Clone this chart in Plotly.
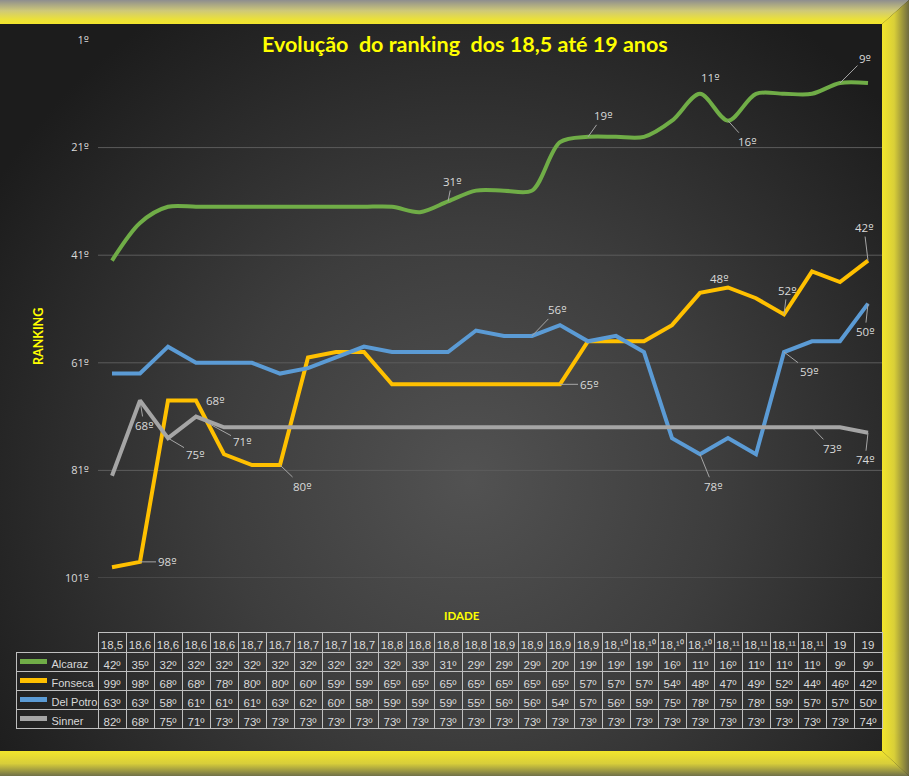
import base64
import plotly.graph_objects as go

# ---------------- data ----------------
ages = ["18,5", "18,6", "18,6", "18,6", "18,6", "18,7", "18,7", "18,7", "18,7", "18,7",
        "18,8", "18,8", "18,8", "18,8", "18,9", "18,9", "18,9", "18,9",
        "18,¹⁰", "18,¹⁰", "18,¹⁰", "18,¹⁰", "18,¹¹", "18,¹¹", "18,¹¹", "18,¹¹", "19", "19"]
alcaraz = [42, 35, 32, 32, 32, 32, 32, 32, 32, 32, 32, 33, 31, 29, 29, 29, 20, 19, 19, 19,
           16, 11, 16, 11, 11, 11, 9, 9]
fonseca = [99, 98, 68, 68, 78, 80, 80, 60, 59, 59, 65, 65, 65, 65, 65, 65, 65, 57, 57, 57,
           54, 48, 47, 49, 52, 44, 46, 42]
delpotro = [63, 63, 58, 61, 61, 61, 63, 62, 60, 58, 59, 59, 59, 55, 56, 56, 54, 57, 56, 59,
            75, 78, 75, 78, 59, 57, 57, 50]
sinner = [82, 68, 75, 71, 73, 73, 73, 73, 73, 73, 73, 73, 73, 73, 73, 73, 73, 73, 73, 73,
          73, 73, 73, 73, 73, 73, 73, 74]
players = ["Alcaraz", "Fonseca", "Del Potro", "Sinner"]
rank_ticks = [1, 21, 41, 61, 81, 101]

# ---------------- styles ----------------
W, H = 909, 776
ML, MR, MT, MB = 0, 27, 40, 40
PW, PH = W - ML - MR, H - MT - MB


def px(x):
    return (x - ML) / PW


def py(y):
    return (H - MB - y) / PH


colors = {"Alcaraz": "#70ad47", "Fonseca": "#ffc000", "Del Potro": "#5b9bd5", "Sinner": "#a5a5a5"}
series = {"Alcaraz": alcaraz, "Fonseca": fonseca, "Del Potro": delpotro, "Sinner": sinner}
TFONT = "Lato, 'Open Sans', sans-serif"
NFONT = "'Open Sans', 'Noto Sans', sans-serif"
TABFONT = "'Liberation Sans', Arial, sans-serif"
TXT = "#d9d9d9"
YEL = "#ffff00"
# ordinal sign in a font whose glyph is underlined
ORD = "<span style='font-family:DejaVu Sans'>º</span>"


def rk(v):
    return f"{v}{ORD}"


svg = """<svg xmlns="http://www.w3.org/2000/svg" width="909" height="776" viewBox="0 0 909 776" preserveAspectRatio="none">
<defs>
<radialGradient id="bg" gradientUnits="userSpaceOnUse" cx="470" cy="480" r="560">
<stop offset="0" stop-color="#525252"/>
<stop offset="0.45" stop-color="#3d3d3d"/>
<stop offset="1" stop-color="#1c1c1c"/>
</radialGradient>
<linearGradient id="top" x1="0" y1="0" x2="0" y2="1">
<stop offset="0" stop-color="#8e8e8e"/>
<stop offset="0.45" stop-color="#cfc978"/>
<stop offset="0.8" stop-color="#ebe13a"/>
<stop offset="1" stop-color="#f2e52c"/>
</linearGradient>
<linearGradient id="right" x1="0" y1="0" x2="1" y2="0">
<stop offset="0" stop-color="#f2e52c"/>
<stop offset="0.45" stop-color="#d9cf38"/>
<stop offset="1" stop-color="#6e6a40"/>
</linearGradient>
<linearGradient id="bottom" x1="0" y1="0" x2="0" y2="1">
<stop offset="0" stop-color="#f2e52c"/>
<stop offset="0.5" stop-color="#d8ce3a"/>
<stop offset="1" stop-color="#707048"/>
</linearGradient>
</defs>
<rect width="909" height="776" fill="url(#bg)"/>
<polygon points="0,0 909,0 882,24 0,24" fill="url(#top)"/>
<polygon points="909,0 909,776 882,751 882,24" fill="url(#right)"/>
<polygon points="0,751 882,751 909,776 0,776" fill="url(#bottom)"/>
</svg>"""
bg_src = "data:image/svg+xml;base64," + base64.b64encode(svg.encode("utf-8")).decode("ascii")

fig = go.Figure()

idx = list(range(len(ages)))
for name in players:
    fig.add_trace(go.Scatter(
        x=idx, y=series[name], mode="lines", name=name,
        line=dict(color=colors[name], width=4,
                  shape="spline" if name == "Alcaraz" else "linear",
                  smoothing=0.9 if name == "Alcaraz" else None),
        xaxis="x", yaxis="y", showlegend=False, hoverinfo="skip"))

# data table (plain text: no spaces so cells never wrap)
header_vals = [""] + ages
cell_vals = [["\u00a0" * 9 + p.replace(" ", "\u00a0") for p in players]]
for i in idx:
    cell_vals.append([f"{series[p][i]}º" for p in players])

col_sizes = [11] + [11.5] * len(ages)
fig.add_trace(go.Table(
    domain=dict(x=[px(16), 1], y=[py(734), py(632)]),
    columnwidth=[82] + [28] * len(ages),
    header=dict(values=header_vals, height=20,
                fill=dict(color="rgba(0,0,0,0)"),
                line=dict(color=["rgba(0,0,0,0)"] + ["#bfbfbf"] * len(ages), width=1),
                font=dict(family=TABFONT, size=11.5, color=TXT), align="center"),
    cells=dict(values=cell_vals, height=19,
               fill=dict(color="rgba(0,0,0,0)"),
               line=dict(color="#bfbfbf", width=1),
               font=dict(family=TABFONT, size=col_sizes, color=TXT),
               align=["left"] + ["center"] * len(ages)),
))

shapes = []
# grid lines
for v in rank_ticks[1:]:
    shapes.append(dict(type="line", xref="x domain", yref="y", x0=0, x1=1, y0=v, y1=v,
                       line=dict(color="#5c5c5c", width=1), layer="below"))
# legend swatches in the table
row_centers = [661.5, 680.5, 699.5, 718.5]
for p, yc in zip(players, row_centers):
    shapes.append(dict(type="line", xref="paper", yref="paper",
                       x0=px(20), x1=px(47), y0=py(yc), y1=py(yc),
                       line=dict(color=colors[p], width=5), layer="above"))

annotations = [
    dict(text="<b>Evolução\u00a0\u00a0do ranking\u00a0\u00a0dos 18,5 até 19 anos</b>",
         xref="paper", yref="paper", x=px(465), y=py(44), showarrow=False,
         font=dict(family=TFONT, size=21.5, color=YEL), xanchor="center", yanchor="middle"),
    dict(text="<b>RANKING</b>", xref="paper", yref="paper", x=px(38), y=py(337),
         showarrow=False, textangle=-90, font=dict(family=TFONT, size=12.5, color=YEL),
         xanchor="center", yanchor="middle"),
    dict(text="<b>IDADE</b>", xref="paper", yref="paper", x=px(462), y=py(615),
         showarrow=False, font=dict(family=TFONT, size=11.5, color=YEL),
         xanchor="center", yanchor="middle"),
]

# data labels: (player, index, dx, dy, leader)
label_specs = [
    ("Alcaraz", 12, 4, -20, True),
    ("Alcaraz", 17, 15, -21, True),
    ("Alcaraz", 21, 10, -16, False),
    ("Alcaraz", 22, 19, 21, True),
    ("Alcaraz", 26, 25, -25, True),
    ("Fonseca", 1, 27, 0, True),
    ("Fonseca", 3, 19, 0, False),
    ("Fonseca", 6, 22, 21, True),
    ("Fonseca", 16, 29, 0, True),
    ("Fonseca", 21, 19, -14, False),
    ("Fonseca", 24, 3, -24, True),
    ("Fonseca", 27, -4, -33, True),
    ("Del Potro", 15, 25, -26, True),
    ("Del Potro", 21, 13, 32, True),
    ("Del Potro", 24, 25, 19, True),
    ("Del Potro", 27, -3, 28, True),
    ("Sinner", 1, 4, 25, True),
    ("Sinner", 2, 27, 16, True),
    ("Sinner", 3, 46, 25, True),
    ("Sinner", 25, 20, 21, True),
    ("Sinner", 27, -3, 27, True),
]
for p, i, dx, dy, leader in label_specs:
    a = dict(x=i, y=series[p][i], xref="x", yref="y", text=rk(series[p][i]),
             font=dict(family=NFONT, size=11.5, color=TXT))
    if leader:
        a.update(showarrow=True, ax=dx, ay=dy, arrowhead=0, arrowwidth=1,
                 arrowcolor="#a6a6a6", standoff=0)
    else:
        a.update(showarrow=False, xshift=dx, yshift=-dy)
    annotations.append(a)

fig.update_layout(
    width=W, height=H,
    margin=dict(l=ML, r=MR, t=MT, b=MB, autoexpand=False),
    paper_bgcolor="#2b2b2b", plot_bgcolor="rgba(0,0,0,0)",
    images=[dict(source=bg_src, xref="paper", yref="paper", x=px(0), y=py(0),
                 sizex=W / PW, sizey=H / PH, xanchor="left", yanchor="top",
                 sizing="stretch", layer="below")],
    xaxis=dict(domain=[px(98), 1], range=[-0.5, len(ages) - 0.5], visible=False,
               fixedrange=True),
    yaxis=dict(domain=[py(578), 1], range=[101, 1], tickvals=rank_ticks,
               ticktext=[rk(v) for v in rank_ticks], showgrid=False, zeroline=False,
               showline=False, ticks="", ticklabelstandoff=8,
               tickfont=dict(family=NFONT, size=11, color=TXT), fixedrange=True),
    shapes=shapes, annotations=annotations,
    font=dict(family=TFONT),
)

fig.write_html("out.html")
